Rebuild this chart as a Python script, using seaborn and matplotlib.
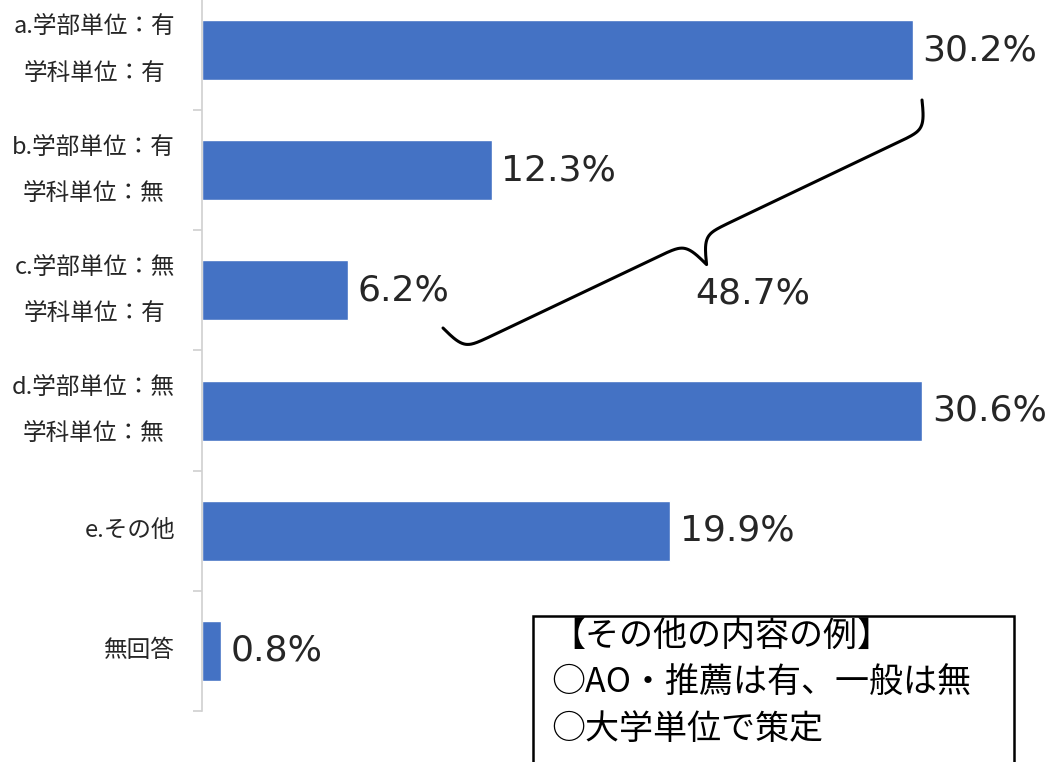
import numpy as np
import matplotlib.pyplot as plt
import seaborn as sns
from matplotlib.lines import Line2D
from matplotlib.patches import Rectangle
from matplotlib.ticker import FixedLocator

# データ
categories = [
    'a.学部単位：有\n学科単位：有',
    'b.学部単位：有\n学科単位：無',
    'c.学部単位：無\n学科単位：有',
    'd.学部単位：無\n学科単位：無',
    'e.その他',
    '無回答',
]
values = [30.2, 12.3, 6.2, 30.6, 19.9, 0.8]
brace_label = '48.7%'
note_lines = ['【その他の内容の例】', '○AO・推薦は有、一般は無', '○大学単位で策定']

W, H = 1047, 762

sns.set_style('white')
plt.rcParams['font.family'] = ['Noto Sans CJK JP', 'DejaVu Sans']

fig = plt.figure(figsize=(W / 100, H / 100), dpi=100)
ax = fig.add_axes([202 / W, 1 - 711 / H, (W - 202) / W, 711 / H])

sns.barplot(x=values, y=categories, color='#4472C4', width=0.5,
            saturation=1, ax=ax, orient='h')

ax.set_xlim(0, (W - 202) / 23.54)
ax.set_ylim(5.5, -0.4167)
ax.set_xlabel('')
ax.set_ylabel('')
ax.set_xticks([])

for s in ['top', 'right', 'bottom']:
    ax.spines[s].set_visible(False)
ax.spines['left'].set_color('#d0d0d0')
ax.spines['left'].set_linewidth(1.2)

ax.yaxis.set_minor_locator(FixedLocator(np.arange(len(categories)) + 0.5))
ax.tick_params(axis='y', which='major', length=0, pad=19.5, labelsize=17)
ax.tick_params(axis='y', which='minor', length=6.5, width=1.2, color='#d0d0d0', left=True)
for lab in ax.get_yticklabels():
    lab.set_multialignment('center')
    lab.set_linespacing(2.3)
    lab.set_va('center')
    lab.set_color('#262626')

# 値ラベル
for i, v in enumerate(values):
    ax.annotate(f'{v:.1f}%', xy=(v, i), xytext=(7, 0), textcoords='offset points',
                va='center', ha='left', fontsize=26, family='DejaVu Sans',
                color='#262626')


# 波括弧（48.7%）
def brace_points(p1, p2, h, k=0.1, n=400):
    p1 = np.array(p1, float)
    p2 = np.array(p2, float)
    d = p2 - p1
    L = np.hypot(*d)
    u = d / L
    nrm = np.array([-u[1], u[0]])
    s = np.linspace(0, L / 2, n)
    a = h / 2
    y = a * np.tanh(k * s) + a * (1 + np.tanh(k * (s - L / 2)))
    s_full = np.concatenate([s, L - s[::-1]])
    y_full = np.concatenate([y, y[::-1]])
    return p1 + np.outer(s_full, u) + np.outer(y_full, nrm)


pts = brace_points((443, 328), (922, 100), 56)
fig.add_artist(Line2D(pts[:, 0] / W, 1 - pts[:, 1] / H, transform=fig.transFigure,
                      color='black', lw=2.2, solid_capstyle='round'))
fig.text(753 / W, 1 - 294 / H, brace_label, ha='center', va='center',
         fontsize=26, family='DejaVu Sans', color='#262626')

# その他の内容の例
fig.add_artist(Rectangle((533 / W, -0.05), (1014 - 533) / W, 0.05 + 1 - 616 / H,
                         transform=fig.transFigure, fill=False, ec='black', lw=1.8))
for line, yc in zip(note_lines, [636, 683, 730]):
    fig.text(551 / W, 1 - yc / H, line, ha='left', va='center', fontsize=24.5,
             color='black')

fig.savefig('out.png', dpi=100)
